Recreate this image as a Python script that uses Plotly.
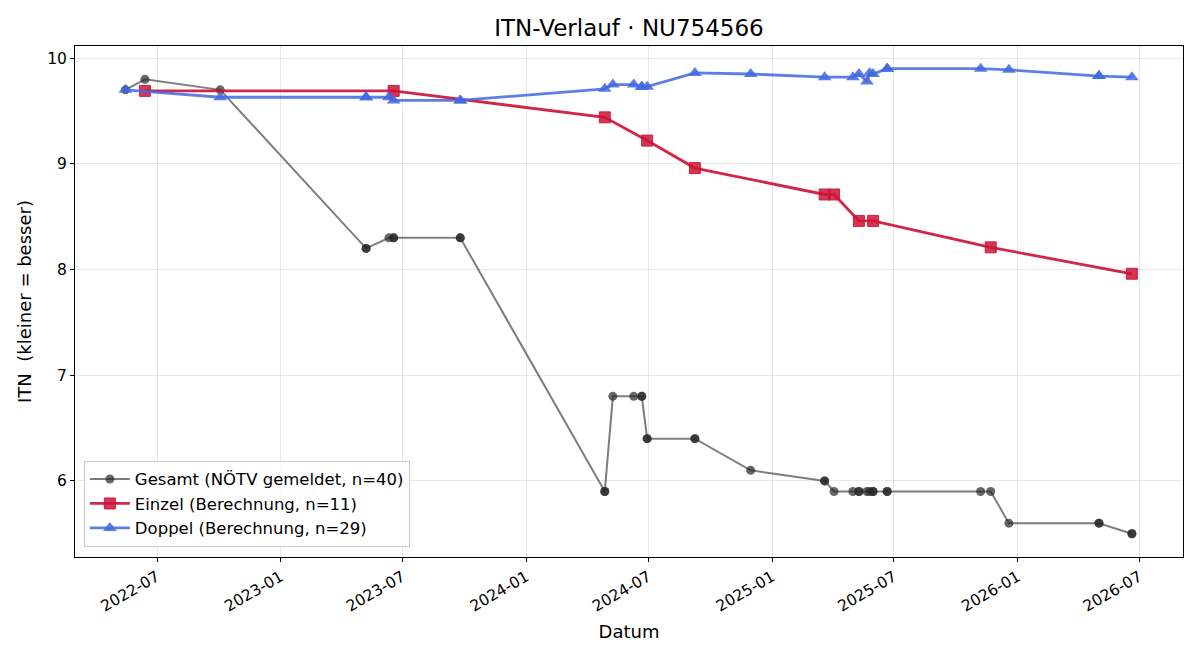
import plotly.graph_objects as go

# ---- data ----
einzel_dates = ["2022-06-13", "2023-06-18", "2024-04-27", "2024-06-29", "2024-09-08",
                "2025-03-20", "2025-04-03", "2025-05-10", "2025-05-31", "2025-11-22", "2026-06-20"]
einzel_itn = [9.69, 9.69, 9.44, 9.22, 8.96, 8.71, 8.71, 8.46, 8.46, 8.21, 7.96]

doppel_dates = ["2022-05-15", "2022-10-03", "2023-05-08", "2023-05-08", "2023-06-11",
                "2023-06-18", "2023-09-25", "2023-09-25", "2024-04-27", "2024-05-09",
                "2024-06-09", "2024-06-21", "2024-06-21", "2024-06-29", "2024-09-08",
                "2024-11-30", "2025-03-20", "2025-05-01", "2025-05-10", "2025-05-22",
                "2025-05-26", "2025-05-31", "2025-06-21", "2025-06-21", "2025-11-07",
                "2025-12-19", "2026-05-02", "2026-05-02", "2026-06-20"]
doppel_itn = [9.70, 9.63, 9.63, 9.63, 9.63, 9.60, 9.60, 9.60, 9.71, 9.75,
              9.75, 9.73, 9.73, 9.73, 9.86, 9.85, 9.82, 9.82, 9.85, 9.78,
              9.86, 9.85, 9.90, 9.90, 9.90, 9.89, 9.83, 9.83, 9.82]

gesamt_dates = ["2022-05-15", "2022-06-13", "2022-10-03", "2023-05-08", "2023-05-08",
                "2023-06-11", "2023-06-18", "2023-06-18", "2023-09-25", "2023-09-25",
                "2024-04-27", "2024-04-27", "2024-05-09", "2024-06-09", "2024-06-21",
                "2024-06-21", "2024-06-29", "2024-06-29", "2024-09-08", "2024-09-08",
                "2024-11-30", "2025-03-20", "2025-03-20", "2025-04-03", "2025-05-01",
                "2025-05-10", "2025-05-10", "2025-05-22", "2025-05-26", "2025-05-31",
                "2025-05-31", "2025-06-21", "2025-06-21", "2025-11-07", "2025-11-22",
                "2025-12-19", "2026-05-02", "2026-05-02", "2026-06-20", "2026-06-20"]
gesamt_itn = [9.7, 9.8, 9.7, 8.2, 8.2, 8.3, 8.3, 8.3, 8.3, 8.3,
              5.9, 5.9, 6.8, 6.8, 6.8, 6.8, 6.4, 6.4, 6.4, 6.4,
              6.1, 6.0, 6.0, 5.9, 5.9, 5.9, 5.9, 5.9, 5.9, 5.9,
              5.9, 5.9, 5.9, 5.9, 5.9, 5.6, 5.6, 5.6, 5.5, 5.5]

x_ticks = ["2022-07-01", "2023-01-01", "2023-07-01", "2024-01-01", "2024-07-01",
           "2025-01-01", "2025-07-01", "2026-01-01", "2026-07-01"]
y_ticks = [6, 7, 8, 9, 10]

FONT = "DejaVu Sans"

fig = go.Figure()
fig.add_trace(go.Scatter(
    x=gesamt_dates, y=gesamt_itn, mode="lines+markers",
    name="Gesamt (NÖTV gemeldet, n=40)",
    line=dict(color="rgba(40,40,40,0.6)", width=2),
    marker=dict(symbol="circle", size=9, color="rgba(40,40,40,0.7)",
                line=dict(width=0)),
))
fig.add_trace(go.Scatter(
    x=einzel_dates, y=einzel_itn, mode="lines+markers",
    name="Einzel (Berechnung, n=11)",
    line=dict(color="rgba(205,20,55,0.92)", width=2.8),
    marker=dict(symbol="square", size=11, color="rgba(205,20,55,0.85)",
                line=dict(width=1, color="rgba(205,20,55,0.9)")),
))
fig.add_trace(go.Scatter(
    x=doppel_dates, y=doppel_itn, mode="lines+markers",
    name="Doppel (Berechnung, n=29)",
    line=dict(color="rgba(65,105,225,0.85)", width=2.8),
    marker=dict(symbol="triangle-up", size=12, color="rgba(65,105,225,0.85)",
                line=dict(width=0)),
))

axis_common = dict(
    showline=True, linecolor="black", linewidth=1, mirror=True,
    ticks="outside", ticklen=4, tickcolor="black",
    showgrid=True, gridcolor="rgba(190,190,190,0.35)", gridwidth=1,
    zeroline=False, tickfont=dict(family=FONT, size=15.5, color="black"),
)

fig.update_layout(
    width=1200, height=660,
    margin=dict(l=75, r=17, t=46, b=103),
    paper_bgcolor="white", plot_bgcolor="white",
    font=dict(family=FONT, color="black"),
    title=dict(text="ITN-Verlauf · NU754566", x=0.5, xref="paper",
               y=1 - 28 / 660, yref="container", yanchor="middle",
               font=dict(family=FONT, size=23, color="black")),
    xaxis=dict(
        **axis_common,
        type="date",
        range=["2022-03-01", "2026-09-04"],
        tickvals=x_ticks, tickformat="%Y-%m", tickangle=-30,
        title=dict(text="Datum", font=dict(family=FONT, size=18), standoff=10),
    ),
    yaxis=dict(
        **axis_common,
        range=[5.28, 10.115],
        tickvals=y_ticks,
        title=dict(text="ITN  (kleiner = besser)", font=dict(family=FONT, size=18), standoff=10),
    ),
    legend=dict(
        x=0.008, y=0.02, xanchor="left", yanchor="bottom",
        bgcolor="rgba(255,255,255,0.85)", bordercolor="#cccccc", borderwidth=1,
        font=dict(family=FONT, size=16.5, color="black"),
        tracegroupgap=0, itemwidth=40,
    ),
    showlegend=True,
)

fig.write_html("out.html")
